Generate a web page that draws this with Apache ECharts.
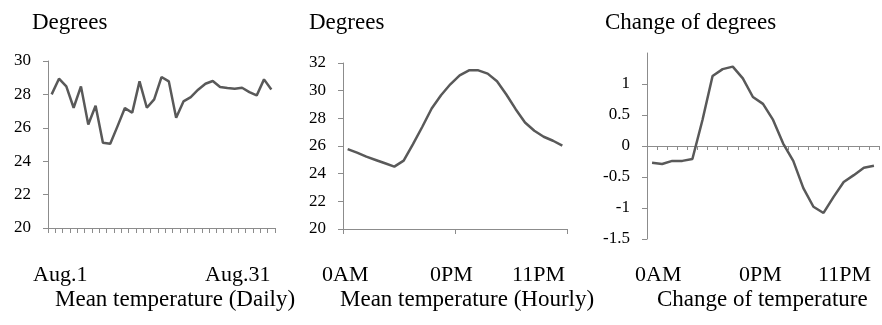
<!DOCTYPE html>
<html>
<head>
<meta charset="utf-8">
<script src="https://cdn.jsdelivr.net/npm/echarts@6/dist/echarts.min.js"></script>
<style>
  html, body { margin: 0; padding: 0; background: #fff; }
  #main { width: 882px; height: 325px; }
</style>
</head>
<body>
<div id="main"></div>
<script>
// days of August
const days = ['1','2','3','4','5','6','7','8','9','10','11','12','13','14','15','16',
  '17','18','19','20','21','22','23','24','25','26','27','28','29','30','31'];
const dailyMean = [28.0, 28.94, 28.48, 27.2, 28.48, 26.2, 27.32, 25.1, 25.04, 26.1, 27.18,
  26.9, 28.78, 27.2, 27.7, 29.04, 28.78, 26.6, 27.58, 27.84, 28.28, 28.64, 28.8, 28.44,
  28.38, 28.34, 28.4, 28.14, 27.94, 28.9, 28.3];

// hours of the day
const hours = ['0','1','2','3','4','5','6','7','8','9','10','11','12','13','14','15',
  '16','17','18','19','20','21','22','23'];
const hourlyMean = [25.78, 25.52, 25.23, 24.99, 24.75, 24.51, 24.94, 26.14, 27.39, 28.71,
  29.67, 30.46, 31.11, 31.47, 31.47, 31.23, 30.68, 29.72, 28.66, 27.7, 27.1, 26.67, 26.38, 26.02];

// hour-to-hour steps
const steps = ['1','2','3','4','5','6','7','8','9','10','11','12','13','14','15','16',
  '17','18','19','20','21','22','23'];
const hourlyChange = [-0.27, -0.29, -0.24, -0.24, -0.21, 0.42, 1.13, 1.24, 1.28, 1.09, 0.79,
  0.68, 0.42, 0.04, -0.24, -0.68, -0.98, -1.08, -0.82, -0.58, -0.47, -0.35, -0.32];

// texts
const titles = ['Degrees', 'Degrees', 'Change of degrees'];
const captions = ['Mean temperature (Daily)', 'Mean temperature (Hourly)', 'Change of temperature'];
const dailyTickLabels = ['Aug.1', 'Aug.31'];
const hourTickLabels = ['0AM', '0PM', '11PM'];

const FONT = '"Liberation Serif", "Times New Roman", serif';
const LINE = '#595959';
const AXIS = '#8c8c8c';

const myChart = echarts.init(document.getElementById('main'));

function xAxisFor(idx, data, tickInterval, tickLen) {
  return {
    type: 'category', gridIndex: idx, data: data, boundaryGap: true,
    axisLine: { show: true, lineStyle: { color: AXIS, width: 1 } },
    axisTick: { show: true, interval: tickInterval, length: tickLen, lineStyle: { color: AXIS } },
    axisLabel: { show: false },
    splitLine: { show: false }
  };
}

function yAxisFor(idx, min, max, interval) {
  return {
    type: 'value', gridIndex: idx, min: min, max: max, interval: interval,
    axisLine: { show: true, lineStyle: { color: AXIS, width: 1 } },
    axisTick: { show: true, length: 5, lineStyle: { color: AXIS } },
    axisLabel: { color: '#000', fontFamily: FONT, fontSize: 17, margin: 17 },
    splitLine: { show: false }
  };
}

function lineSeries(idx, data) {
  return {
    type: 'line', xAxisIndex: idx, yAxisIndex: idx, data: data,
    symbol: 'none', smooth: false,
    lineStyle: { color: LINE, width: 2.5 }
  };
}

function text(str, x, y, size) {
  return {
    type: 'text', x: x, y: y,
    style: { text: str, fill: '#000', font: size + 'px ' + FONT, align: 'left', verticalAlign: 'middle' }
  };
}

const y3 = yAxisFor(2, -1.5, 1.5, 0.5);
y3.axisLabel.showMaxLabel = false;

myChart.setOption({
  animation: false,
  backgroundColor: '#fff',
  grid: [
    { left: 48, top: 61, width: 227, height: 167 },
    { left: 343, top: 63, width: 224, height: 166 },
    { left: 647, top: 53, width: 232, height: 186 }
  ],
  xAxis: [
    xAxisFor(0, days, 0, 5),
    xAxisFor(1, hours, 11, 5),
    xAxisFor(2, steps, 0, 4)
  ],
  yAxis: [
    yAxisFor(0, 20, 30, 2),
    yAxisFor(1, 20, 32, 2),
    y3
  ],
  series: [
    lineSeries(0, dailyMean),
    lineSeries(1, hourlyMean),
    lineSeries(2, hourlyChange)
  ],
  graphic: [
    text(titles[0], 32, 23, 23),
    text(titles[1], 309, 23, 23),
    text(titles[2], 605, 23, 23),
    text(dailyTickLabels[0], 33, 275, 22),
    text(dailyTickLabels[1], 205, 275, 22),
    text(hourTickLabels[0], 322, 275, 22),
    text(hourTickLabels[1], 430, 275, 22),
    text(hourTickLabels[2], 512, 275, 22),
    text(hourTickLabels[0], 635, 275, 22),
    text(hourTickLabels[1], 739, 275, 22),
    text(hourTickLabels[2], 818, 275, 22),
    text(captions[0], 55, 300, 23),
    text(captions[1], 340, 300, 23),
    text(captions[2], 657, 300, 23)
  ]
});
</script>
</body>
</html>
